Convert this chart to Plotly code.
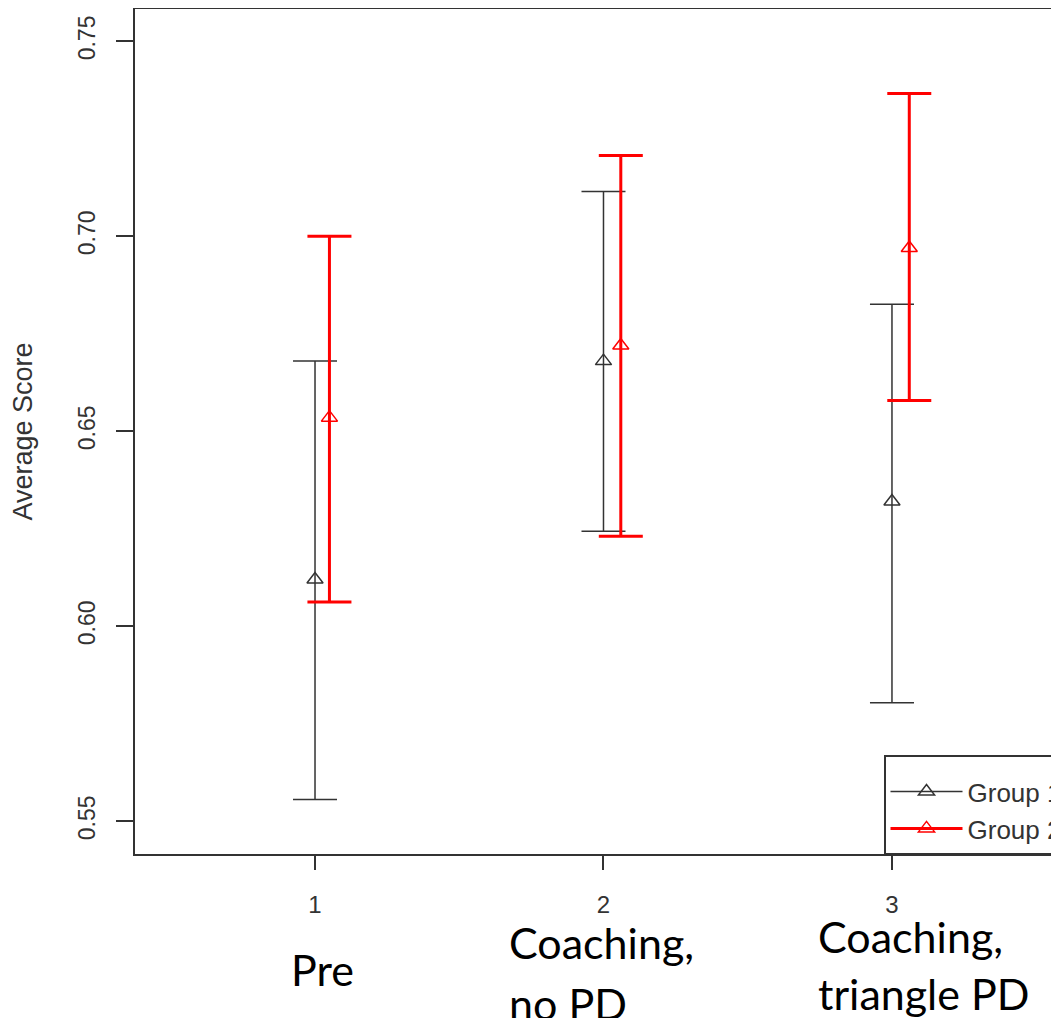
import plotly.graph_objects as go

# ---- data ----
x_group1 = [1, 2, 3]
x_group2 = [1.05, 2.06, 3.06]
g1_mean = [0.612, 0.668, 0.632]
g1_upper = [0.668, 0.7115, 0.6826]
g1_lower = [0.5556, 0.6244, 0.5804]
g2_mean = [0.6535, 0.672, 0.697]
g2_upper = [0.700, 0.7207, 0.7366]
g2_lower = [0.6062, 0.6231, 0.6579]
tick_vals = [1, 2, 3]
tick_text = ["1", "2", "3"]
y_ticks = [0.55, 0.60, 0.65, 0.70, 0.75]
y_tick_text = ["0.55", "0.60", "0.65", "0.70", "0.75"]
category_lines = [["Pre"], ["Coaching,", "no PD"], ["Coaching,", "triangle PD"]]
series_names = ["Group 1", "Group 2"]

BLACK = "#333333"
RED = "#ff0000"

fig = go.Figure()

def add_group(xs, mean, upper, lower, color, thick):
    fig.add_trace(go.Scatter(
        x=xs, y=mean, mode="markers", showlegend=False,
        marker=dict(symbol="triangle-up-open", size=14, color=color,
                    line=dict(width=1.5, color=color)),
        error_y=dict(type="data", symmetric=False,
                     array=[u - m for u, m in zip(upper, mean)],
                     arrayminus=[m - l for m, l in zip(mean, lower)],
                     color=color, thickness=thick, width=22),
        hoverinfo="skip"))

add_group(x_group1, g1_mean, g1_upper, g1_lower, BLACK, 1.5)
add_group(x_group2, g2_mean, g2_upper, g2_lower, RED, 3)

for name, color, w in [(series_names[0], BLACK, 1.5), (series_names[1], RED, 3)]:
    fig.add_trace(go.Scatter(
        x=[None], y=[None], mode="lines+markers", name=name,
        line=dict(color=color, width=w),
        marker=dict(symbol="triangle-up-open", size=14, color=color,
                    line=dict(width=1.5, color=color))))

# category annotations (added text below axis)
shifts = [(-26, [-115]), (-96, [-88, -149]), (-76, [-82, -139])]
for pos, lines, (xs, ys) in zip(tick_vals, category_lines, shifts):
    for txt, yy in zip(lines, ys):
        fig.add_annotation(x=pos, xref="x", y=0, yref="paper",
                           text=txt, showarrow=False, xanchor="left",
                           yanchor="middle", xshift=xs, yshift=yy,
                           font=dict(family="Lato", size=43, color="#000000"))

# page body has an 8px offset; figure is placed so the plot area
# spans x 135..1059 and y 8..853 in the window
fig.update_layout(
    width=1051, height=1010,
    margin=dict(l=127, r=0, t=1, b=164, autoexpand=False),
    paper_bgcolor="white", plot_bgcolor="white",
    font=dict(family="Liberation Sans", color=BLACK),
    legend=dict(x=(884 - 135) / 924, y=0, xanchor="left", yanchor="bottom",
                bordercolor=BLACK, borderwidth=1.5, bgcolor="white",
                font=dict(family="Liberation Sans", size=26, color=BLACK),
                title=dict(text=" ", font=dict(size=9)),
                itemwidth=72),
    xaxis=dict(range=[0.376, 3.579], tickvals=tick_vals, ticktext=tick_text,
               showgrid=False, zeroline=False, showline=True, mirror=True,
               linecolor=BLACK, linewidth=1.5, ticks="outside", ticklen=14,
               tickwidth=1.5, tickcolor=BLACK, ticklabelstandoff=14,
               tickfont=dict(size=24, color=BLACK)),
    yaxis=dict(range=[0.5416, 0.7583], tickvals=y_ticks, ticktext=y_tick_text,
               showgrid=False, zeroline=False, showline=True, mirror=False,
               linecolor=BLACK, linewidth=1.5, ticks="outside", ticklen=17,
               tickwidth=1.5, tickcolor=BLACK, tickangle=-90,
               ticklabelstandoff=12,
               tickfont=dict(size=23, color=BLACK),
               title=dict(text="Average Score", standoff=34,
                          font=dict(size=27, color=BLACK))),
)

fig.write_html("out.html")
